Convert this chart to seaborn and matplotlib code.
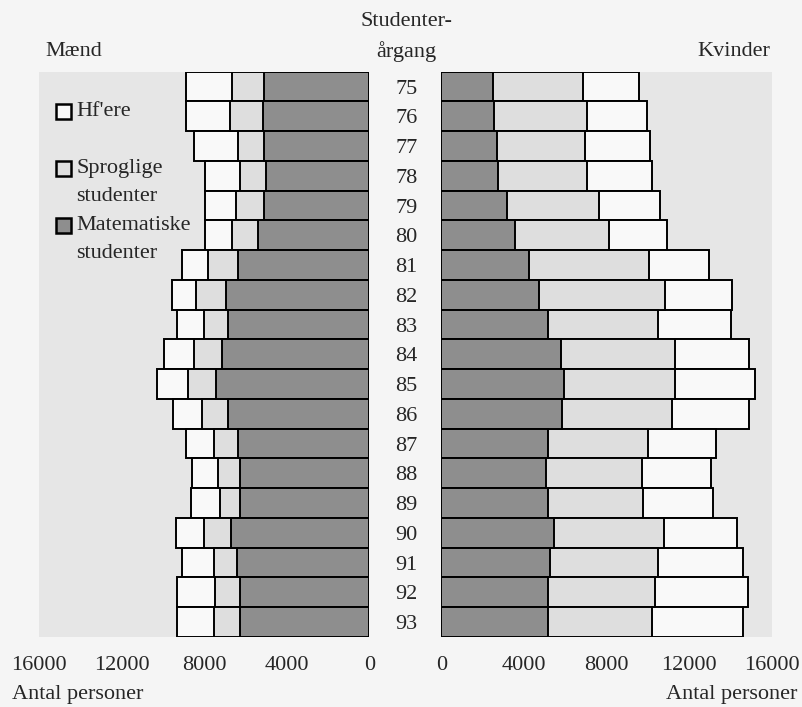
import numpy as np
import pandas as pd
import seaborn as sns
import matplotlib.pyplot as plt
from matplotlib.patches import Rectangle

# Studenter per aargang, aflaest fra figuren
years = ["75", "76", "77", "78", "79", "80", "81", "82", "83", "84",
         "85", "86", "87", "88", "89", "90", "91", "92", "93"]

maend_mat = [5120, 5170, 5120, 5000, 5120, 5410, 6360, 6940, 6860, 7160,
             7420, 6860, 6360, 6250, 6250, 6700, 6410, 6250, 6250]
maend_spr = [1530, 1560, 1240, 1290, 1330, 1270, 1470, 1450, 1160, 1340,
             1370, 1240, 1180, 1100, 1010, 1320, 1130, 1210, 1290]
maend_hf = [2220, 2140, 2140, 1690, 1530, 1300, 1240, 1190, 1290, 1450,
            1480, 1400, 1330, 1270, 1370, 1370, 1530, 1850, 1770]

kvinder_mat = [2480, 2550, 2680, 2750, 3160, 3560, 4240, 4720, 5170, 5780,
               5940, 5840, 5170, 5090, 5170, 5460, 5250, 5170, 5170]
kvinder_spr = [4380, 4510, 4270, 4300, 4460, 4540, 5800, 6090, 5310, 5550,
               5400, 5310, 4860, 4620, 4620, 5310, 5230, 5200, 5020]
kvinder_hf = [2690, 2920, 3170, 3160, 2950, 2820, 2900, 3250, 3570, 3570,
              3850, 3750, 3270, 3350, 3350, 3530, 4140, 4460, 4430]

x_ticks = [0, 4000, 8000, 12000, 16000]
legend_labels = [["Hf'ere"], ["Sproglige", "studenter"], ["Matematiske", "studenter"]]

DARK = "#8e8e8e"
LIGHT = "#dedede"
WHITE = "#f9f9f9"
PANEL = "#e6e6e6"
PAGE = "#f5f5f5"

sns.set_style("white")
plt.rcParams["font.family"] = ["Liberation Serif", "DejaVu Serif"]
plt.rcParams["font.size"] = 16

fig = plt.figure(figsize=(8.02, 7.07), dpi=100, facecolor=PAGE)
ax_m = fig.add_axes([39.3 / 802, 70 / 707, 330 / 802, 565.3 / 707])
ax_k = fig.add_axes([441.3 / 802, 70 / 707, 330.4 / 802, 565.3 / 707])


def draw_panel(ax, mat, spr, hf):
    df = pd.DataFrame({"aar": years, "mat": mat, "spr": spr, "hf": hf})
    df["spr_cum"] = df["mat"] + df["spr"]
    df["hf_cum"] = df["spr_cum"] + df["hf"]
    # largest total first, smaller segments drawn on top
    for col, color in [("hf_cum", WHITE), ("spr_cum", LIGHT), ("mat", DARK)]:
        sns.barplot(data=df, x=col, y="aar", order=years, orient="h",
                    color=color, saturation=1, width=1.0, errorbar=None,
                    edgecolor="black", linewidth=1.4, ax=ax)
    ax.set_facecolor(PANEL)
    ax.set_ylim(18.5, -0.5)
    ax.set_xlabel("")
    ax.set_ylabel("")
    ax.set_xticks(x_ticks)
    ax.set_xticklabels([str(t) for t in x_ticks])
    ax.tick_params(axis="both", length=0, labelsize=16)
    ax.tick_params(axis="x", pad=14)
    for s in ax.spines.values():
        s.set_visible(False)


draw_panel(ax_m, maend_mat, maend_spr, maend_hf)
draw_panel(ax_k, kvinder_mat, kvinder_spr, kvinder_hf)

ax_m.set_xlim(16000, 0)
ax_m.set_yticklabels([])
ax_k.set_xlim(0, 16000)
ax_k.tick_params(axis="y", pad=25)
for lbl in ax_k.get_yticklabels():
    lbl.set_horizontalalignment("center")

# legend drawn by hand inside the men's panel
sq_w, sq_h = 15 / 330, 15 / 565.3
leg_y = [0.9296, 0.828, 0.728]
for labels, y, color in zip(legend_labels, leg_y, [WHITE, LIGHT, DARK]):
    ax_m.add_patch(Rectangle((0.0497, y - sq_h / 2), sq_w, sq_h,
                             transform=ax_m.transAxes, facecolor=color,
                             edgecolor="black", linewidth=1.8, zorder=5))
    for i, text in enumerate(labels):
        ax_m.text(0.113, y - i * 28 / 565.3, text, transform=ax_m.transAxes,
                  ha="left", va="center", fontsize=16, zorder=5)

fig.text(45 / 802, 1 - 51 / 707, "Mænd", ha="left", va="center", fontsize=16)
fig.text(770 / 802, 1 - 51 / 707, "Kvinder", ha="right", va="center", fontsize=16)
fig.text(406 / 802, 1 - 22 / 707, "Studenter-", ha="center", va="center", fontsize=16)
fig.text(406 / 802, 1 - 52 / 707, "årgang", ha="center", va="center", fontsize=16)
fig.text(12 / 802, 1 - 694 / 707, "Antal personer", ha="left", va="center", fontsize=16)
fig.text(797 / 802, 1 - 694 / 707, "Antal personer", ha="right", va="center", fontsize=16)

fig.savefig("out.png", dpi=100, facecolor=PAGE)
